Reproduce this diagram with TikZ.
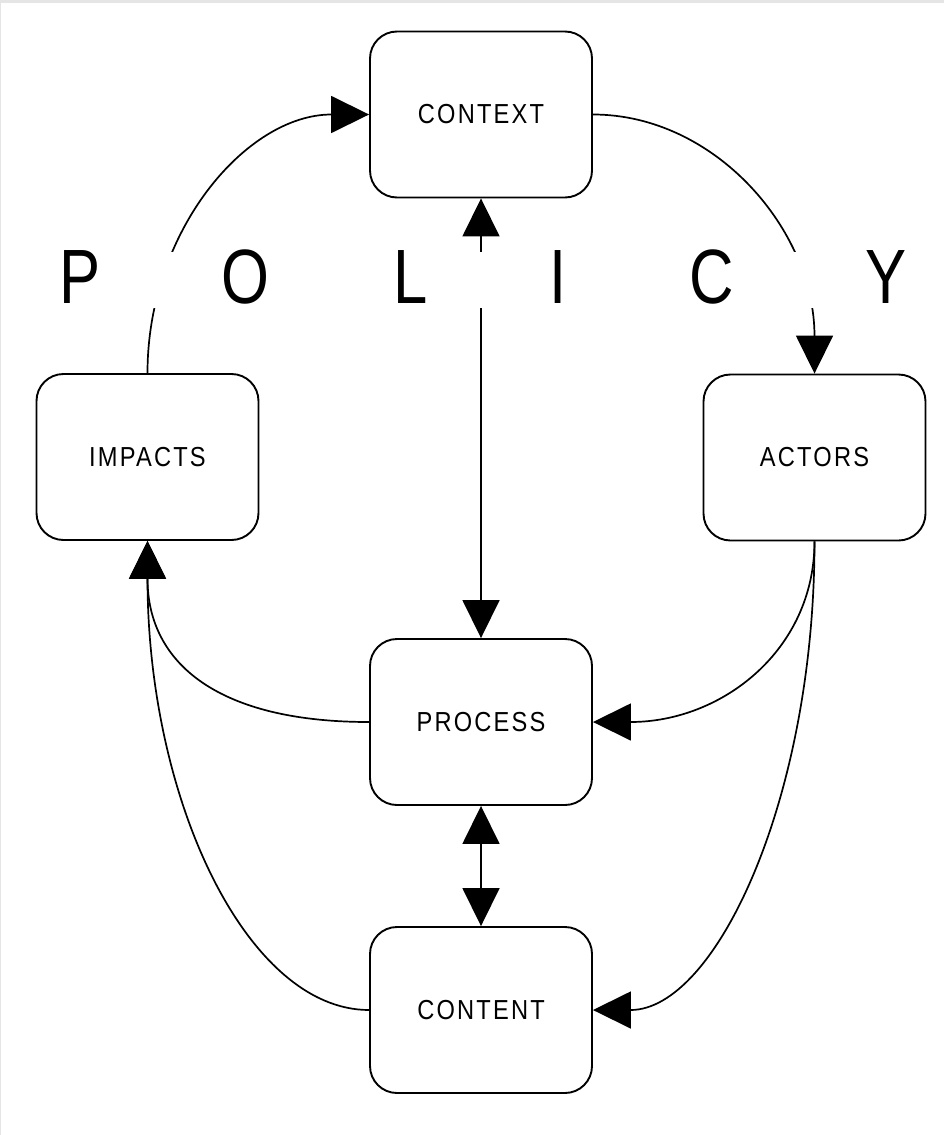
\documentclass[tikz,border=0pt]{standalone}
\usepackage{fontspec}
\usetikzlibrary{arrows.meta}
\newfontfamily\boxfont[FakeStretch=0.86,LetterSpace=8]{Liberation Sans}
\newfontfamily\bigfont[FakeStretch=0.8]{Liberation Sans}
\begin{document}
\begin{tikzpicture}[x=1pt,y=-1pt,
  box/.style={draw, line width=1.9pt, rounded corners=27pt, minimum width=222pt,
    minimum height=166pt, inner sep=0pt, font=\boxfont\fontsize{27.5}{30}\selectfont},
  conn/.style={line width=1.7pt},
  >={Triangle[length=38pt,width=37pt]},
  letter/.style={anchor=base, inner sep=0pt, font=\bigfont\fontsize{77}{80}\selectfont}]
\fill[black!10] (0,0) rectangle (944,1135);
\fill[white] (1,3) rectangle (944,1135);
\useasboundingbox (0,0) rectangle (944,1135);

\node[box] (context) at (481,114.5) {CONTEXT};
\node[box] (impacts) at (147.5,457) {IMPACTS};
\node[box] (actors)  at (814.5,457.5) {ACTORS};
\node[box] (process) at (481,722) {PROCESS};
\node[box] (content) at (481,1010) {CONTENT};

\draw[conn,->] (impacts.north) .. controls (147.5,230) and (247,114.5) .. (context.west);
\draw[conn,->] (context.east) .. controls (715,114.5) and (814.5,230) .. (actors.north);
\draw[conn,->] (actors.south) .. controls (814.5,650) and (722,722) .. (process.east);
\draw[conn,->] (actors.south) .. controls (814.5,800) and (715,1010) .. (content.east);
\draw[conn,->] (process.west) .. controls (219,722) and (147.5,664) .. (impacts.south);
\draw[conn,->] (content.west) .. controls (247,1010) and (147.5,800) .. (impacts.south);
\draw[conn,<->] (context.south) -- (process.north);
\draw[conn,<->] (process.south) -- (content.north);

\fill[white] (1,252) rectangle (944,308);
\node[letter] (p) at (80,303) {P};
\node[letter] (o) at (245,303) {O};
\node[letter] (l) at (411,303) {L};
\node[letter] (i) at (558,303) {I};
\node[letter] (c) at (712,303) {C};
\node[letter] (y) at (886,303) {Y};
\end{tikzpicture}
\end{document}
